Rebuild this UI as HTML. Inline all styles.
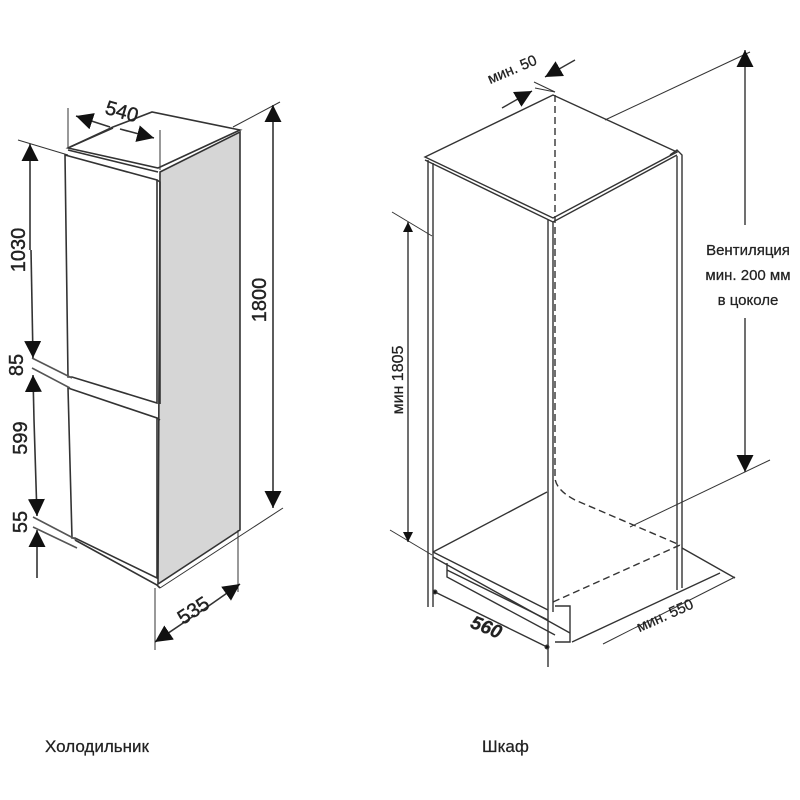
<!DOCTYPE html>
<html><head><meta charset="utf-8"><style>
html,body{margin:0;padding:0;background:#fff;}
svg{display:block;}
text{font-family:"Liberation Sans",sans-serif;fill:#222;}
</style></head><body>
<svg width="800" height="800" viewBox="0 0 800 800" xmlns="http://www.w3.org/2000/svg">
<defs>
<marker id="a" viewBox="0 0 10 10" refX="10" refY="5" markerWidth="17" markerHeight="17" markerUnits="userSpaceOnUse" orient="auto"><path d="M0,0L10,5L0,10z" fill="#111"/></marker>
<marker id="b" viewBox="0 0 10 10" refX="10" refY="5" markerWidth="10" markerHeight="10" markerUnits="userSpaceOnUse" orient="auto"><path d="M0,0L10,5L0,10z" fill="#111"/></marker>
</defs>
<g stroke="#333" stroke-width="1.6" fill="none">
<!-- FRIDGE -->
<polygon points="160,172 240,132 240,530 158,584" fill="#d6d6d6" stroke="#333"/>
<polygon points="68,148 113,127 152,112 240,130 158,168" fill="#fff"/>
<line x1="68" y1="150" x2="158" y2="172"/>
<line x1="70" y1="147" x2="113" y2="128"/>
<path d="M65,155 L157,180 L157,403 L72,377 L68,377 L65,155z" fill="#fff"/>
<path d="M157,180 L160,182 L160,404"/>
<path d="M68,388 L157,418 L157,578 L75,538 L72,538 Z" fill="#fff"/>
<path d="M75,540 L157,585 L160,588"/>
<line x1="157" y1="418" x2="160" y2="420"/>
<path d="M32,358 L72,378 M32,368 L70,388" stroke="#555"/>
<path d="M33,517 L77,540 M33,527 L77,548" stroke="#555"/>
<!-- 540 -->
<line x1="68" y1="108" x2="68" y2="148" stroke-width="1"/>
<line x1="160" y1="130" x2="160" y2="170" stroke-width="1"/>
<line x1="110" y1="127" x2="76" y2="116" marker-end="url(#a)"/>
<line x1="120" y1="129" x2="154" y2="138" marker-end="url(#a)"/>
<!-- 1800 -->
<line x1="233" y1="127" x2="280" y2="102" stroke-width="1"/>
<line x1="160" y1="588" x2="283" y2="508" stroke-width="1"/>
<line x1="273" y1="300" x2="273" y2="105" marker-end="url(#a)"/>
<line x1="273" y1="300" x2="273" y2="508" marker-end="url(#a)"/>
<!-- left stack -->
<line x1="18" y1="140" x2="68" y2="155" stroke-width="1"/>
<line x1="30" y1="250" x2="30" y2="144" marker-end="url(#a)"/>
<line x1="31" y1="250" x2="33" y2="358" marker-end="url(#a)"/>
<line x1="34" y1="420" x2="33" y2="375" marker-end="url(#a)"/>
<line x1="34" y1="420" x2="37" y2="516" marker-end="url(#a)"/>
<line x1="37" y1="578" x2="37" y2="530" marker-end="url(#a)"/>
<!-- 535 -->
<line x1="155" y1="588" x2="155" y2="650" stroke-width="1"/>
<line x1="238" y1="530" x2="238" y2="592" stroke-width="1"/>
<line x1="200" y1="612" x2="240" y2="584" marker-end="url(#a)"/>
<line x1="195" y1="615" x2="155" y2="642" marker-end="url(#a)"/>
</g>
<g font-size="20" stroke="#222" stroke-width="0.4">
<text transform="translate(120,118) rotate(16)" text-anchor="middle">540</text>
<text transform="translate(266,300) rotate(-90)" text-anchor="middle">1800</text>
<text transform="translate(25,250) rotate(-90)" text-anchor="middle">1030</text>
<text transform="translate(23,365) rotate(-90)" text-anchor="middle">85</text>
<text transform="translate(27,438) rotate(-90)" text-anchor="middle">599</text>
<text transform="translate(27,522) rotate(-90)" text-anchor="middle">55</text>
<text transform="translate(197,616) rotate(-33)" text-anchor="middle">535</text>
</g>

<g stroke="#333" stroke-width="1.4" fill="none">
<polygon points="425,157 553,95 677,152 553,218"/>
<path d="M425,160 L553,222 L677,155"/>
<path d="M670,155 L677,150 L682,155 L682,588 M677,156 L677,590"/>
<path d="M428,160 L428,607 M433,163 L433,607"/>
<path d="M548,220 L548,667 M553,222 L553,612"/>
<path d="M555,95 L555,478 Q556,490 575,500 L680,545" stroke-dasharray="7,4"/>
<path d="M553,602 L680,545" stroke-dasharray="7,4"/>
<line x1="433" y1="552" x2="547" y2="492"/>
<path d="M433,552 L548,610 M433,557 L570,633"/>
<path d="M447,563 L447,577 L555,635 M447,570 L548,620"/>
<path d="M555,606 L570,606 L570,642 L555,642"/>
<path d="M572,642 L720,573 M682,548 L735,578"/>
<line x1="435" y1="592" x2="547" y2="647"/>
<circle cx="435" cy="592" r="1.8" fill="#111"/><circle cx="547" cy="647" r="1.8" fill="#111"/>
<line x1="603" y1="644" x2="735" y2="577" stroke-width="1"/>
<line x1="392" y1="212" x2="432" y2="236" stroke-width="1"/>
<line x1="390" y1="530" x2="432" y2="555" stroke-width="1"/>
<line x1="408" y1="380" x2="408" y2="222" marker-end="url(#b)"/>
<line x1="408" y1="380" x2="408" y2="542" marker-end="url(#b)"/>
<line x1="605" y1="120" x2="750" y2="52" stroke-width="1"/>
<line x1="630" y1="527" x2="770" y2="460" stroke-width="1"/>
<line x1="745" y1="225" x2="745" y2="50" marker-end="url(#a)"/>
<line x1="745" y1="318" x2="745" y2="472" marker-end="url(#a)"/>
<line x1="535" y1="88" x2="555" y2="92" stroke-width="1"/>
<line x1="534" y1="82" x2="555" y2="92" stroke-width="1"/>
<line x1="502" y1="108" x2="532" y2="91" marker-end="url(#a)"/>
<line x1="575" y1="60" x2="545" y2="77" marker-end="url(#a)"/>
</g>
<g stroke="#222" stroke-width="0.25">
<text font-size="15" transform="translate(514,74) rotate(-23)" text-anchor="middle">мин. 50</text>
<text font-size="16" transform="translate(403,380) rotate(-90)" text-anchor="middle">мин 1805</text>
<text font-size="19" font-style="italic" font-weight="bold" transform="translate(484,633) rotate(22)" text-anchor="middle">560</text>
<text font-size="15" transform="translate(667,620) rotate(-24)" text-anchor="middle">мин. 550</text>
<text x="748" y="255" font-size="15" text-anchor="middle">Вентиляция</text>
<text x="748" y="280" font-size="15" text-anchor="middle">мин. 200 мм</text>
<text x="748" y="305" font-size="15" text-anchor="middle">в цоколе</text>
<text x="45" y="752" font-size="17">Холодильник</text>
<text x="482" y="752" font-size="17">Шкаф</text>
</g>
</svg>
</body></html>
